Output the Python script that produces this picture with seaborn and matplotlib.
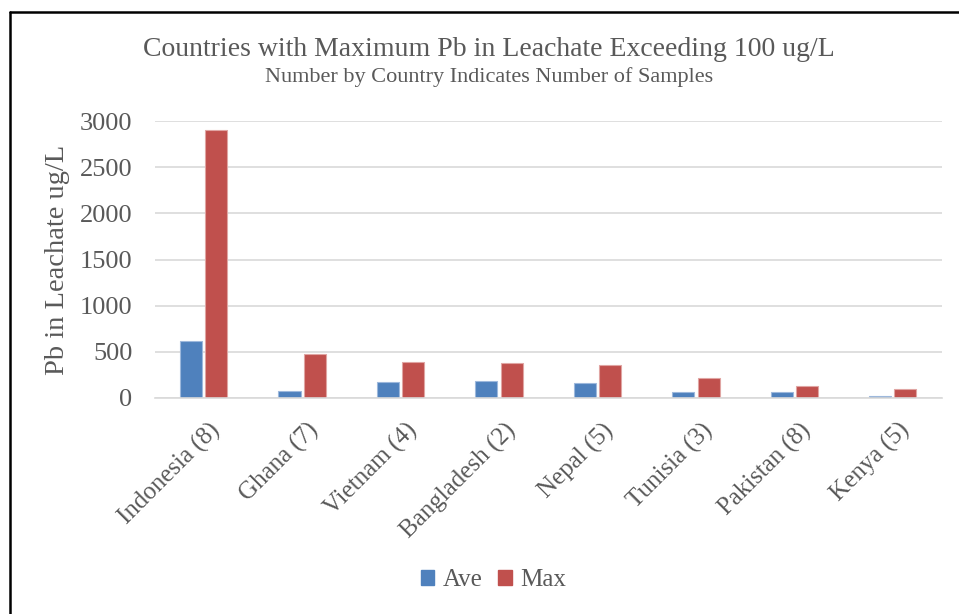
import matplotlib
matplotlib.use("Agg")
import matplotlib.pyplot as plt
import matplotlib.transforms as mtransforms
import seaborn as sns
import pandas as pd
from matplotlib.lines import Line2D
from matplotlib.patches import Patch

countries = ["Indonesia (8)", "Ghana (7)", "Vietnam (4)", "Bangladesh (2)",
             "Nepal (5)", "Tunisia (3)", "Pakistan (8)", "Kenya (5)"]
ave_values = [617, 77, 172, 186, 164, 69, 69, 18]
max_values = [2905, 474, 391, 376, 354, 215, 131, 99]
series_names = ["Ave", "Max"]
colors = ["#4F81BD", "#C0504D"]
y_ticks = [0, 500, 1000, 1500, 2000, 2500, 3000]

df = pd.DataFrame({
    "country": countries * 2,
    "series": [series_names[0]] * len(countries) + [series_names[1]] * len(countries),
    "value": ave_values + max_values,
})

sns.set_theme(style="white")
plt.rcParams["font.family"] = ["Liberation Serif", "DejaVu Serif"]
text_color = "#595959"

fig = plt.figure(figsize=(9.59, 6.14), dpi=100)
ax = fig.add_axes([154.5 / 959, 1 - 398 / 614, (942 - 154.5) / 959, (398 - 121) / 614])

sns.barplot(data=df, x="country", y="value", hue="series", palette=colors,
            width=0.515, gap=0.13, ax=ax, legend=False, saturation=1)
edge_colors = {"#4f81bd": "#9DB8DC", "#c0504d": "#E0A5A3"}
for p in ax.patches:
    fc = matplotlib.colors.to_hex(p.get_facecolor())
    p.set_edgecolor(edge_colors.get(fc, fc))
    p.set_linewidth(0.8)

ax.set_ylim(0, 3000)
ax.set_xlim(-0.5, len(countries) - 0.5)
ax.set_yticks(y_ticks)
ax.set_yticklabels([str(t) for t in y_ticks], fontsize=19, color=text_color)
ax.yaxis.grid(True, color="#D9D9D9", linewidth=1.2)
ax.set_axisbelow(True)
for s in ["top", "right", "left"]:
    ax.spines[s].set_visible(False)
ax.spines["bottom"].set_color("#D9D9D9")
ax.spines["bottom"].set_linewidth(1.2)
ax.tick_params(axis="y", length=0, pad=16)
ax.tick_params(axis="x", length=0, pad=15)
ax.set_xticks(range(len(countries)))
ax.set_xticklabels(countries, rotation=45, ha="right", va="top",
                   rotation_mode="anchor", fontsize=18, color=text_color)
offset = mtransforms.ScaledTranslation(5 / 100, 0, fig.dpi_scale_trans)
for lbl in ax.get_xticklabels():
    lbl.set_transform(lbl.get_transform() + offset)
ax.set_xlabel("")
ax.set_ylabel("Pb in Leachate ug/L", fontsize=20.5, color=text_color, va="center")
ax.yaxis.set_label_coords((57 - 154.5) / 787.5, 0.5)

fig.text(489 / 959, 1 - 50 / 614,
         "Countries with Maximum Pb in Leachate Exceeding 100 ug/L",
         ha="center", va="center", fontsize=20, color=text_color)
fig.text(489 / 959, 1 - 77 / 614,
         "Number by Country Indicates Number of Samples",
         ha="center", va="center", fontsize=16, color=text_color)

handles = [Patch(facecolor=c, edgecolor=c, label=n) for c, n in zip(colors, series_names)]
fig.legend(handles=handles, loc="center", bbox_to_anchor=(493.5 / 959, 1 - 580 / 614),
           ncol=2, frameon=False, fontsize=18, handlelength=0.55, handleheight=0.55,
           columnspacing=0.6, handletextpad=0.35, labelcolor=text_color)

# outer border (top and left)
fig.add_artist(Line2D([10 / 959, 1.0], [1 - 12 / 614, 1 - 12 / 614],
                      transform=fig.transFigure, color="black", linewidth=1.8))
fig.add_artist(Line2D([10 / 959, 10 / 959], [0.0, 1 - 12 / 614],
                      transform=fig.transFigure, color="black", linewidth=1.8))

fig.savefig("out.png", dpi=100, facecolor="white")
